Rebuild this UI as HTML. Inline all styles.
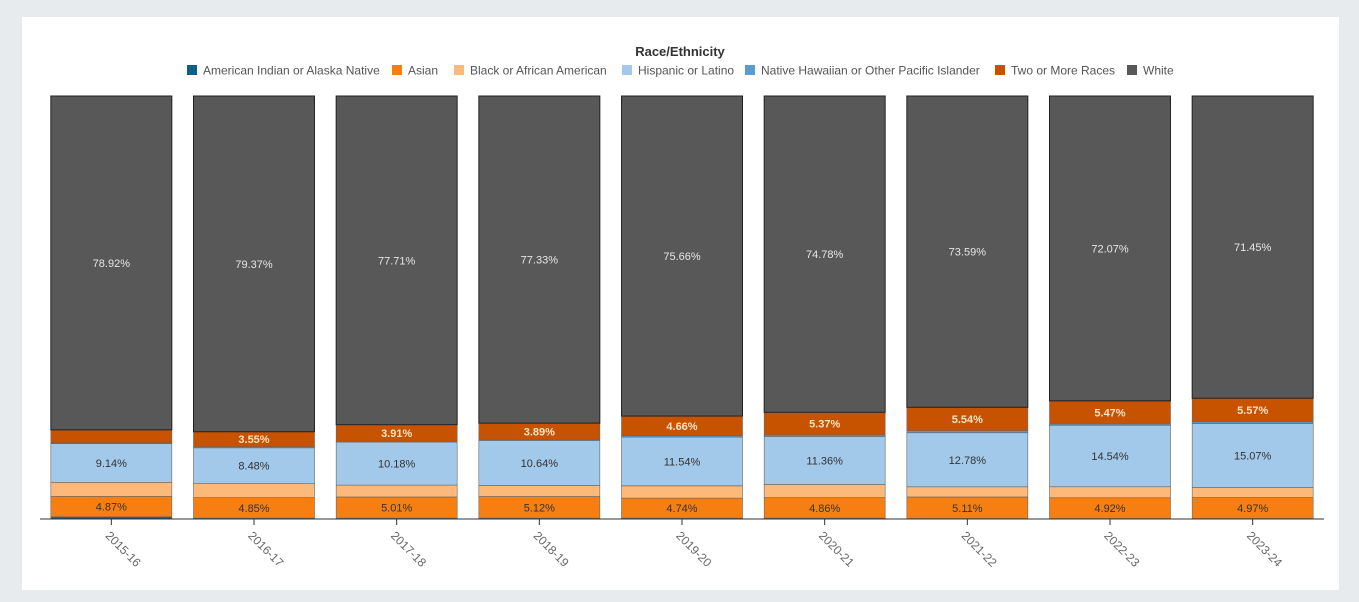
<!DOCTYPE html>
<html><head><meta charset="utf-8"><style>
body{margin:0;background:#e8ebee;font-family:"Liberation Sans",sans-serif;}
#panel{position:absolute;left:22px;top:17px;width:1317px;height:573px;background:#fff;}
svg{position:absolute;left:0;top:0;}
</style></head><body>
<div id="panel"></div>
<svg id="chart" width="1359" height="602"></svg>
<script>
const categories=["2015-16","2016-17","2017-18","2018-19","2019-20","2020-21","2021-22","2022-23","2023-24"];
const seriesNames=["American Indian or Alaska Native","Asian","Black or African American","Hispanic or Latino","Native Hawaiian or Other Pacific Islander","Two or More Races","White"];
const seriesColors=["#0b5f8a","#f77f12","#fdb97a","#a2c8ea","#5b9bd0","#c75200","#585858"];
const amIndian=[0.5,0.2,0.2,0.2,0.2,0.2,0.1,0.1,0.1];
const asian=[4.87,4.85,5.01,5.12,4.74,4.86,5.11,4.92,4.97];
const black=[3.3,3.3,2.8,2.6,2.9,3.1,2.4,2.6,2.4];
const hispanic=[9.14,8.48,10.18,10.64,11.54,11.36,12.78,14.54,15.07];
const nhpi=[0.17,0.25,0.19,0.22,0.3,0.33,0.48,0.3,0.44];
const twoMore=[3.1,3.55,3.91,3.89,4.66,5.37,5.54,5.47,5.57];
const white=[78.92,79.37,77.71,77.33,75.66,74.78,73.59,72.07,71.45];
const series=[amIndian,asian,black,hispanic,nhpi,twoMore,white];
const labelColors=["#fff","#333","#333","#333","#333","#fde3c8","#e6e6e6"];
const labelWeights=["normal","normal","normal","normal","normal","bold","normal"];

const NS="http://www.w3.org/2000/svg";
const svg=document.getElementById('chart');
const plotL=40,plotR=1324,plotT=96,plotB=519;
const band=(plotR-plotL)/categories.length,barW=121;
const x=i=>plotL+band*i+(band-barW)/2;
const y=v=>plotB-(v/100)*(plotB-plotT);
function mk(tag,attrs,parent){const e=document.createElementNS(NS,tag);for(const k in attrs)e.setAttribute(k,attrs[k]);(parent||svg).appendChild(e);return e;}

// legend
const title=mk('text',{x:680,y:56,'text-anchor':'middle','font-size':13,'font-weight':'bold',fill:'#333'});
title.textContent='Race/Ethnicity';


const legendX=[187,392,454,622,745,995,1127];
seriesNames.forEach((n,s)=>{
  const g=mk('g',{});
  
  
  mk('rect',{x:legendX[s],y:65,width:10,height:10,fill:seriesColors[s]},g);
  const t=mk('text',{x:legendX[s]+16,y:74.5,'font-size':12,fill:'#555',textLength:0},g);
  t.removeAttribute('textLength');
  t.textContent=n;
});

// bars
categories.forEach((c,i)=>{
  let cum=0;
  series.forEach((arr,s)=>{
    const v=arr[i];const y0=y(cum),y1=y(cum+v);
    const r=mk('rect',{x:x(i),y:y1,width:barW,height:y0-y1,fill:seriesColors[s],stroke:s==6?'#222':'#666','stroke-width':s==6?1:0.6});
    
    
    if(v>=3.5){
      const t=mk('text',{x:x(i)+barW/2,y:(y0+y1)/2+4,'text-anchor':'middle','font-size':11,fill:labelColors[s],'font-weight':labelWeights[s]});
      t.textContent=v.toFixed(2)+'%';
      
      
    }
    cum+=v;
  });
  const cx=x(i)+barW/2;
  mk('line',{x1:cx,y1:plotB,x2:cx,y2:plotB+6,stroke:'#333'});
  const lx=cx+9,ly=plotB+33;
  const t=mk('text',{x:lx,y:ly,'text-anchor':'middle','font-size':12,fill:'#666',transform:`rotate(45 ${lx} ${ly})`});
  t.textContent=c;
  
  
});
const ax=mk('line',{x1:plotL,y1:plotB,x2:plotR,y2:plotB,stroke:'#333','stroke-width':1});


</script>
</body></html>
